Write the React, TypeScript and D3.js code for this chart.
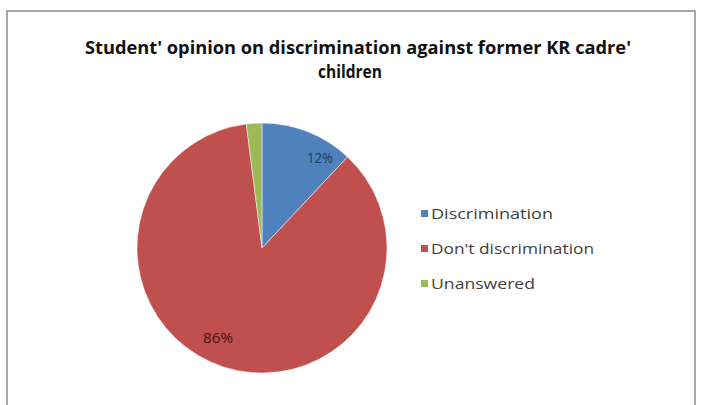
import React from "react";
import * as d3 from "d3";

const categories = ["Discrimination", "Don't discrimination", "Unanswered"];
const values = [12, 86, 2];
const labels = ["12%", "86%", ""];
const colors = ["#4F81BD", "#C0504D", "#9BBB59"];
const labelColors = ["#1F3A60", "#4A1412", "#3A4A1F"];
const titleLines = ["Student' opinion on discrimination against former KR cadre'", "children"];
const legendWidths = [122, 163, 104];

export default function App() {
  const W = 701, H = 405;
  const cx = 262, cy = 248, r = 125;
  const pie = d3.pie<number>().sort(null).value((d) => d);
  const arcs = pie(values);
  const arc = d3.arc<d3.PieArcDatum<number>>().innerRadius(0).outerRadius(r);
  const font = "'Open Sans', 'DejaVu Sans', sans-serif";
  const legendY = d3.scalePoint<string>().domain(categories).range([214, 284]);
  return (
    <svg width={W} height={H} style={{ position: "absolute", left: 0, top: 0, background: "#fff" }}>
      <rect x={7} y={11} width={688} height={420} fill="#fff" stroke="#8c8c8c" strokeWidth={1.5} />
      <text x={358} y={54} textAnchor="middle" fontFamily={font} fontWeight="bold" fontSize={17}
        fill="#111" textLength={546} lengthAdjust="spacingAndGlyphs">{titleLines[0]}</text>
      <text x={350} y={78} textAnchor="middle" fontFamily={font} fontWeight="bold" fontSize={17}
        fill="#111" textLength={64} lengthAdjust="spacingAndGlyphs">{titleLines[1]}</text>
      <g transform={`translate(${cx},${cy})`}>
        {arcs.map((a, i) => (
          <path key={i} d={arc(a) || ""} fill={colors[i]} stroke="#fff" strokeWidth={0.5} />
        ))}
      </g>
      <text x={320} y={163} textAnchor="middle" fontFamily={font} fontSize={14} fill={labelColors[0]}
        textLength={26} lengthAdjust="spacingAndGlyphs">{labels[0]}</text>
      <text x={218} y={343} textAnchor="middle" fontFamily={font} fontSize={14} fill={labelColors[1]}
        textLength={30} lengthAdjust="spacingAndGlyphs">{labels[1]}</text>
      {categories.map((c, i) => (
        <g key={c}>
          <rect x={421} y={legendY(c)! - 4} width={7} height={7} fill={colors[i]} />
          <text x={431} y={legendY(c)! + 5} fontFamily={font} fontSize={15} fill="#404040"
            textLength={legendWidths[i]} lengthAdjust="spacingAndGlyphs">{c}</text>
        </g>
      ))}
    </svg>
  );
}
